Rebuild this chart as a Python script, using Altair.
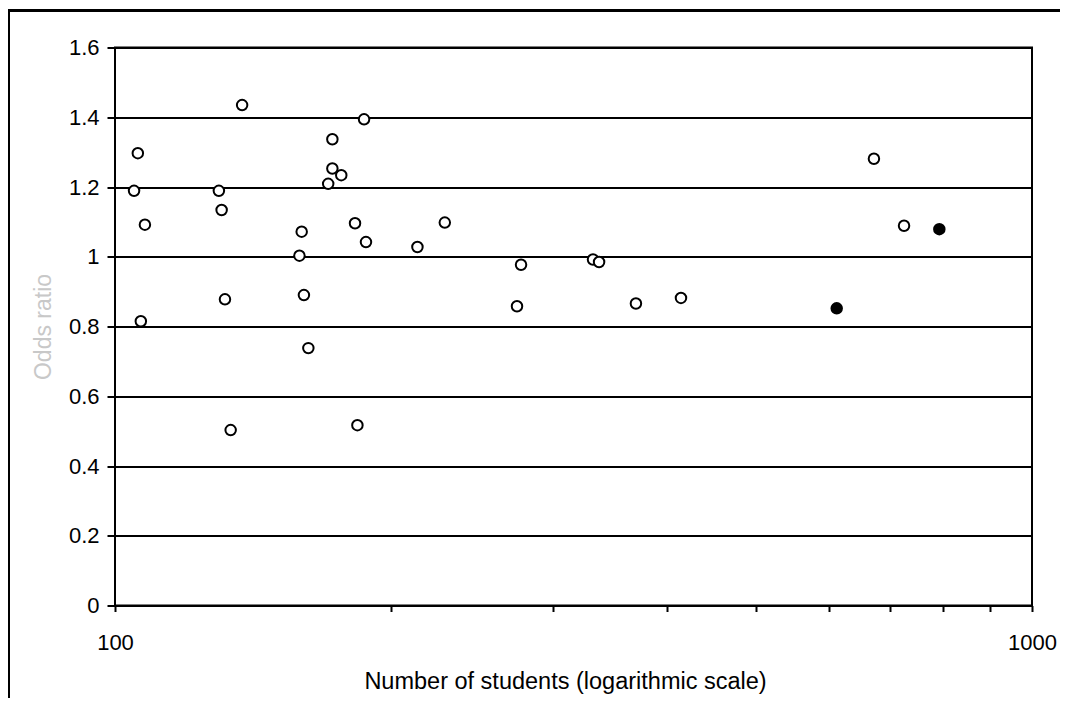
import altair as alt
import pandas as pd

# Number of students (log scale) and odds ratios
students_open = [104.9, 105.9, 107.8, 106.7, 129.8, 130.7, 131.8, 133.7, 137.6,
                 158.9, 159.8, 160.7, 162.5, 170.8, 172.6, 172.6, 176.5, 182.7,
                 183.8, 186.9, 187.8, 213.7, 228.9, 274.4, 277.2, 332.1, 337.2,
                 369.9, 414.2, 672.4, 725.2]
odds_open = [1.189, 1.297, 1.092, 0.815, 1.189, 1.134, 0.878, 0.503, 1.435,
             1.003, 1.072, 0.890, 0.738, 1.209, 1.337, 1.253, 1.234, 1.096,
             0.517, 1.394, 1.042, 1.028, 1.098, 0.858, 0.977, 0.992, 0.985,
             0.866, 0.882, 1.281, 1.089]
students_filled = [612.4, 792.4]
odds_filled = [0.852, 1.079]

x_ticks = [100, 200, 300, 400, 500, 600, 700, 800, 900, 1000]
y_ticks = [0, 0.2, 0.4, 0.6, 0.8, 1.0, 1.2, 1.4, 1.6]

df = pd.DataFrame({
    "students": students_open + students_filled,
    "odds": odds_open + odds_filled,
    "kind": ["open"] * len(students_open) + ["filled"] * len(students_filled),
})

FONT = "Liberation Sans"

points = alt.Chart(df).mark_point(
    shape="circle", size=110, strokeWidth=2, opacity=1, filled=False
).encode(
    x=alt.X("students:Q",
            scale=alt.Scale(type="log", domain=[100, 1000], nice=False),
            axis=alt.Axis(values=x_ticks, format="d",
                          labelExpr="datum.value == 100 || datum.value == 1000 ? datum.label : ''",
                          title="Number of students (logarithmic scale)",
                          grid=False, domain=False, tickSize=6, tickWidth=2,
                          tickColor="black", labelFontSize=22, labelFont=FONT,
                          labelColor="black", labelPadding=21, labelFlush=False,
                          titleFont=FONT, titleFontSize=23.5, titleFontWeight="normal",
                          titleColor="black", titleBaseline="alphabetic",
                          titleAnchor="middle", titleX=450, titleY=83)),
    y=alt.Y("odds:Q",
            scale=alt.Scale(domain=[0, 1.6], nice=False, zero=True),
            axis=alt.Axis(values=y_ticks, format="~g", title="Odds ratio",
                          grid=True, gridColor="black", gridWidth=2, gridOpacity=1,
                          domain=False, tickSize=8, tickWidth=2, tickColor="black",
                          labelFontSize=22, labelFont=FONT, labelColor="black",
                          labelPadding=8, labelFlush=False,
                          titleFont=FONT, titleFontSize=23, titleFontWeight="normal",
                          titleColor="#c8c8c8", titlePadding=13)),
    fill=alt.Fill("kind:N", scale=alt.Scale(domain=["open", "filled"],
                                            range=["white", "black"]), legend=None),
    stroke=alt.value("black"),
)

frame = alt.Chart(df).mark_rect(
    fillOpacity=0, stroke="black", strokeWidth=2
).encode(
    x=alt.value(-106), x2=alt.value(1100),
    y=alt.value(-37), y2=alt.value(720),
)

chart = alt.layer(frame, points).properties(
    width=917, height=558,
    autosize=alt.AutoSizeParams(type="none"),
    padding={"left": 107, "top": 39.5, "right": 28, "bottom": 92},
    background="white",
).configure_view(stroke="black", strokeWidth=2)

chart.save("out.html", embed_options={"renderer": "svg", "actions": False})
